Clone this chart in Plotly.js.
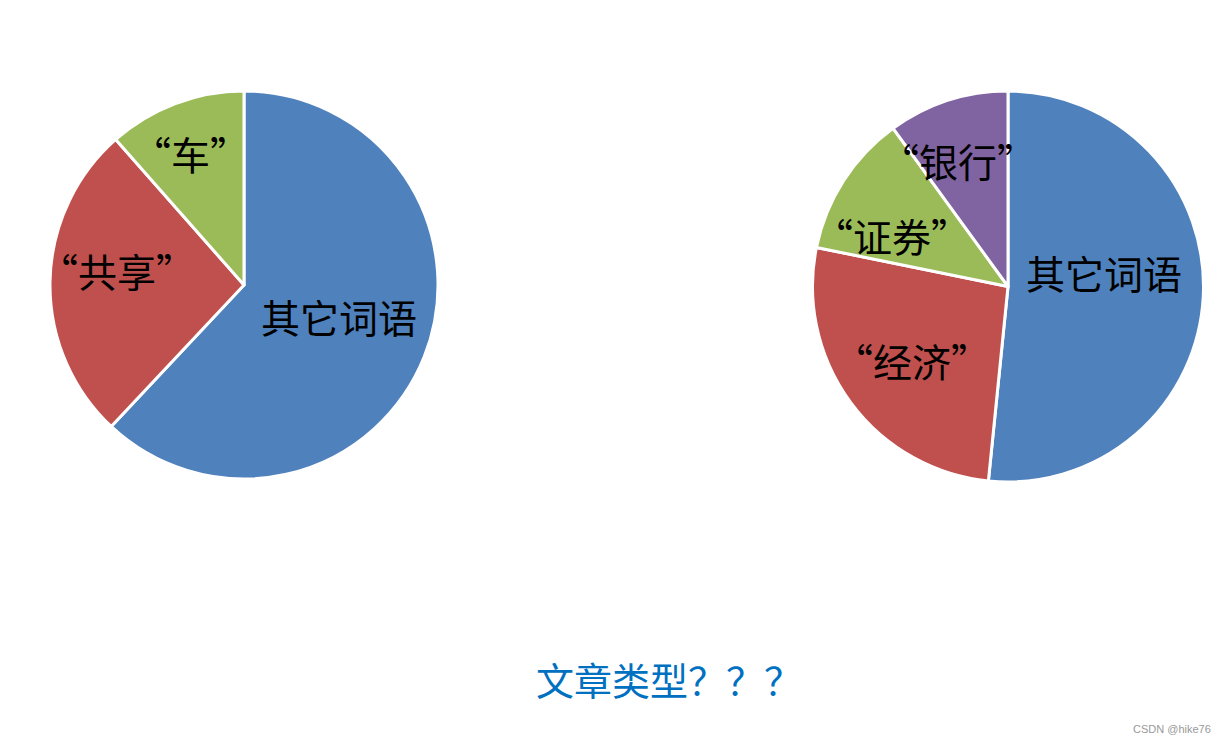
<!DOCTYPE html>
<html>
<head>
<meta charset="utf-8">
<script src="https://cdn.plot.ly/plotly-3.0.1.min.js"></script>
<style>
  html, body { margin: 0; padding: 0; background: #fff; }
  #chart { width: 1228px; height: 744px; }
</style>
</head>
<body>
<div id="chart"></div>
<script>
// left pie: articles about shared cars
const leftLabels = ['其它词语', '“共享”', '“车”'];
const leftValues = [62, 26.5, 11.5];
const leftColors = ['#4F81BD', '#C0504D', '#9BBB59'];

// right pie: articles about finance
const rightLabels = ['其它词语', '“经济”', '“证券”', '“银行”'];
const rightValues = [51.6, 26.6, 11.8, 10];
const rightColors = ['#4F81BD', '#C0504D', '#9BBB59', '#8064A2'];

const chartTitle = '文章类型？？？';
const watermark = 'CSDN @hike76';

const W = 1228, H = 744;

// where the slice labels sit (pixel centres, like the hand-placed ones in the original)
const leftLabelPos = [[339, 316], [117, 270], [190, 153]];
const rightLabelPos = [[1104, 272], [912, 360], [892, 235], [958, 160]];

const labelFont = { family: '"Noto Sans CJK SC", sans-serif', size: 39, color: '#000' };

function pieTrace(labels, values, colors, xdom, ydom) {
    return {
        type: 'pie',
        labels: labels,
        values: values,
        sort: false,
        direction: 'clockwise',
        rotation: 0,
        marker: { colors: colors, line: { color: '#fff', width: 3 } },
        textinfo: 'none',
        hoverinfo: 'label+percent',
        domain: { x: xdom, y: ydom }
    };
}

function labelNotes(labels, pos) {
    return labels.map((txt, i) => ({
        text: txt,
        xref: 'paper', yref: 'paper',
        x: pos[i][0] / W, y: 1 - pos[i][1] / H,
        xanchor: 'center', yanchor: 'middle',
        showarrow: false,
        font: labelFont
    }));
}

const traces = [
    pieTrace(leftLabels, leftValues, leftColors,
        [50 / W, 438 / W], [1 - 479 / H, 1 - 91 / H]),
    pieTrace(rightLabels, rightValues, rightColors,
        [812 / W, 1204 / W], [1 - 482 / H, 1 - 91 / H])
];

const annotations = labelNotes(leftLabels, leftLabelPos)
    .concat(labelNotes(rightLabels, rightLabelPos));

annotations.push({
    text: watermark,
    xref: 'paper', yref: 'paper',
    x: 1213 / W, y: 1 - 729 / H,
    xanchor: 'right', yanchor: 'middle',
    showarrow: false,
    font: { family: 'Arial, "Liberation Sans", sans-serif', size: 11, color: '#999' }
});

const layout = {
    width: W,
    height: H,
    margin: { l: 0, r: 0, t: 0, b: 0 },
    paper_bgcolor: '#fff',
    showlegend: false,
    title: {
        text: chartTitle,
        x: 669 / W,
        xanchor: 'center',
        y: 1 - 682 / H,
        yanchor: 'middle',
        font: { family: '"Noto Sans CJK SC", sans-serif', size: 38, color: '#0070C0' }
    },
    annotations: annotations
};

Plotly.newPlot('chart', traces, layout, { displayModeBar: false, staticPlot: true });
</script>
</body>
</html>
